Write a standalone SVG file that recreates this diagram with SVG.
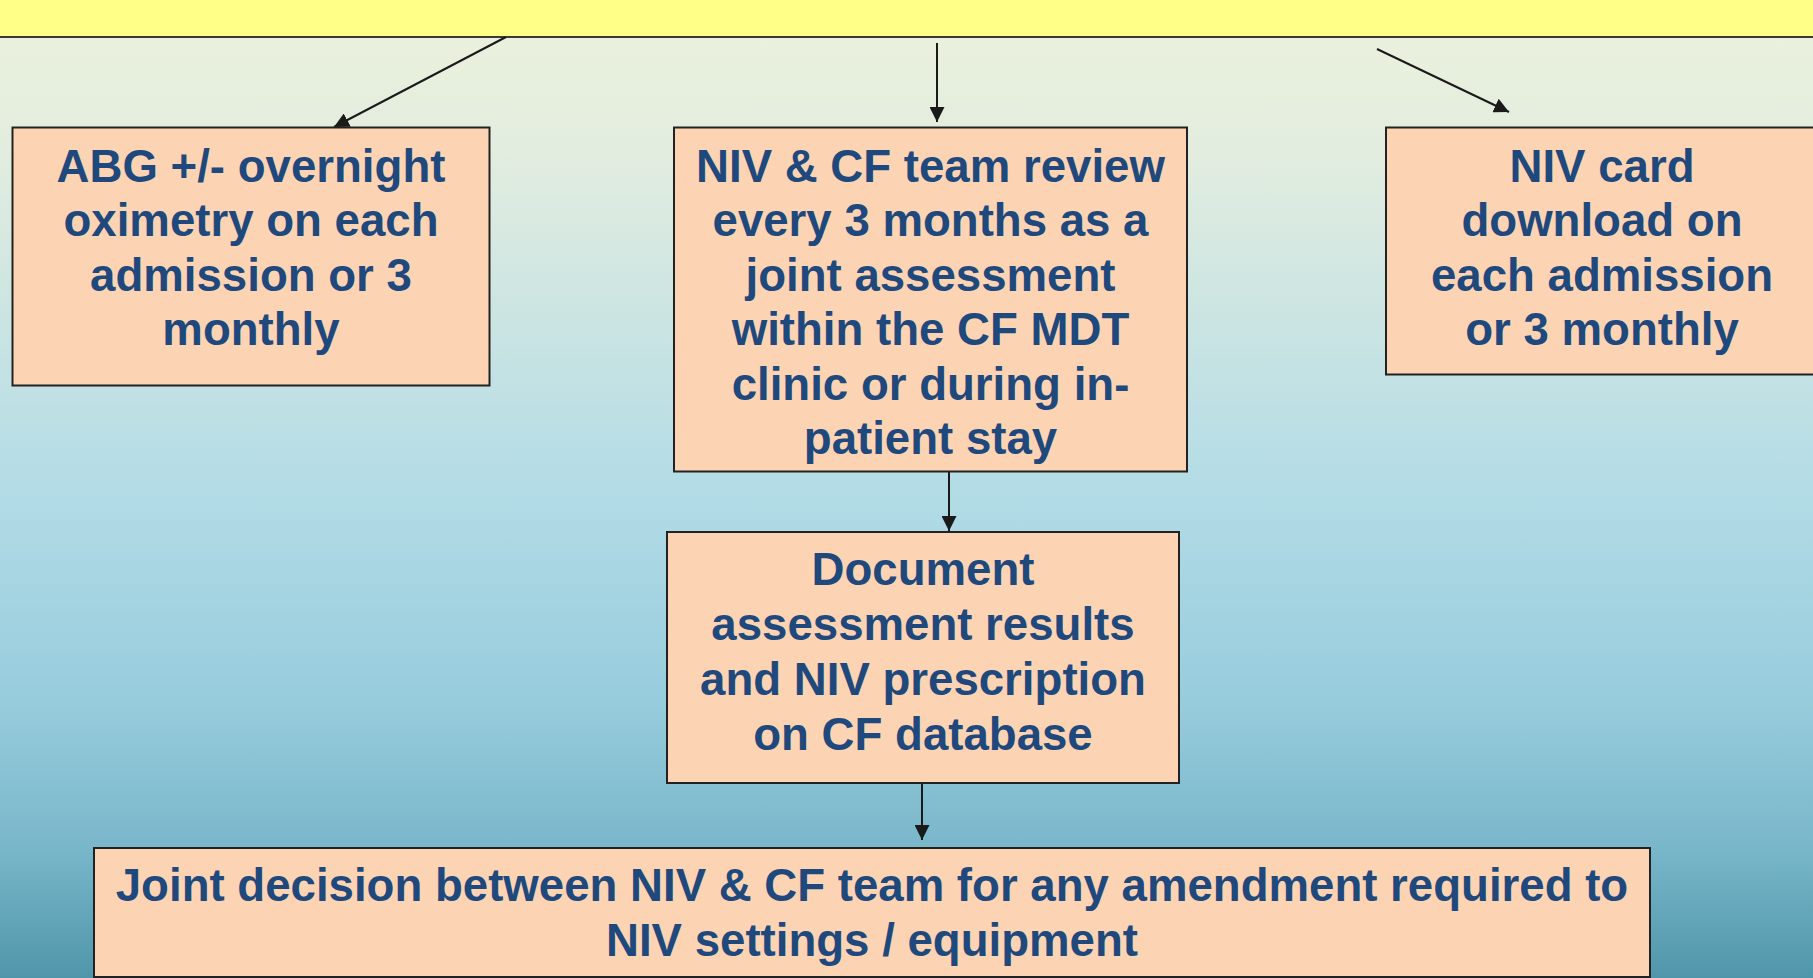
<svg xmlns="http://www.w3.org/2000/svg" width="1813" height="978" viewBox="0 0 1813 978">
<defs>
<linearGradient id="bg" x1="0" y1="0" x2="0" y2="978" gradientUnits="userSpaceOnUse">
<stop offset="0" stop-color="#ecf2dc"/>
<stop offset="0.15" stop-color="#e3eddf"/>
<stop offset="0.5" stop-color="#b3dce6"/>
<stop offset="0.72" stop-color="#97ccdd"/>
<stop offset="0.87" stop-color="#78b6c9"/>
<stop offset="1" stop-color="#5096aa"/>
</linearGradient>
<marker id="ahs" viewBox="0 0 10 10" refX="10" refY="5" markerWidth="15" markerHeight="15" markerUnits="userSpaceOnUse" orient="auto">
<path d="M0,0 L10,5 L0,10 z" fill="#1a1a1a"/>
</marker>
</defs>
<style>
.box{fill:#fcd4b3;stroke:#222;stroke-width:2}
.t{font-family:"Liberation Sans",Arial,sans-serif;font-weight:bold;font-size:45.6px;fill:#1f497d;text-anchor:middle}
.c{stroke:#1a1a1a;stroke-width:2;fill:none}
</style>
<rect x="0" y="0" width="1813" height="978" fill="url(#bg)"/>
<g id="banner">
<rect x="-5" y="-5" width="1823" height="42" fill="#ffff88" stroke="#3a3a3a" stroke-width="2"/>
</g>
<g id="connectors">
<line class="c" x1="506" y1="37" x2="334" y2="127" marker-end="url(#ahs)"/>
<line class="c" x1="937" y1="43" x2="937" y2="122" marker-end="url(#ahs)"/>
<line class="c" x1="1377" y1="49" x2="1509" y2="112" marker-end="url(#ahs)"/>
<line class="c" x1="949" y1="472" x2="949" y2="531" marker-end="url(#ahs)"/>
<line class="c" x1="922" y1="783" x2="922" y2="840" marker-end="url(#ahs)"/>
</g>
<g id="node-abg">
<rect class="box" x="12.5" y="127.5" width="477" height="258"/>
<text class="t"><tspan x="251" y="181.5">ABG +/- overnight</tspan><tspan x="251" y="236">oximetry on each</tspan><tspan x="251" y="290.5">admission or 3</tspan><tspan x="251" y="345">monthly</tspan></text>
</g>
<g id="node-review">
<rect class="box" x="674" y="127.5" width="513" height="344"/>
<text class="t"><tspan x="930.5" y="181.5">NIV &amp; CF team review</tspan><tspan x="930.5" y="236">every 3 months as a</tspan><tspan x="930.5" y="290.5">joint assessment</tspan><tspan x="930.5" y="345">within the CF MDT</tspan><tspan x="930.5" y="399.5">clinic or during in-</tspan><tspan x="930.5" y="454">patient stay</tspan></text>
</g>
<g id="node-card">
<rect class="box" x="1386" y="127.5" width="432" height="247"/>
<text class="t"><tspan x="1602" y="181.5">NIV card</tspan><tspan x="1602" y="236">download on</tspan><tspan x="1602" y="290.5">each admission</tspan><tspan x="1602" y="345">or 3 monthly</tspan></text>
</g>
<g id="node-document">
<rect class="box" x="667" y="532" width="512" height="251"/>
<text class="t"><tspan x="923" y="585">Document</tspan><tspan x="923" y="639.5">assessment results</tspan><tspan x="923" y="694.5">and NIV prescription</tspan><tspan x="923" y="749.5">on CF database</tspan></text>
</g>
<g id="node-decision">
<rect class="box" x="94" y="848" width="1556" height="129"/>
<text class="t"><tspan x="872" y="901">Joint decision between NIV &amp; CF team for any amendment required to</tspan><tspan x="872" y="956">NIV settings / equipment</tspan></text>
</g>
</svg>
